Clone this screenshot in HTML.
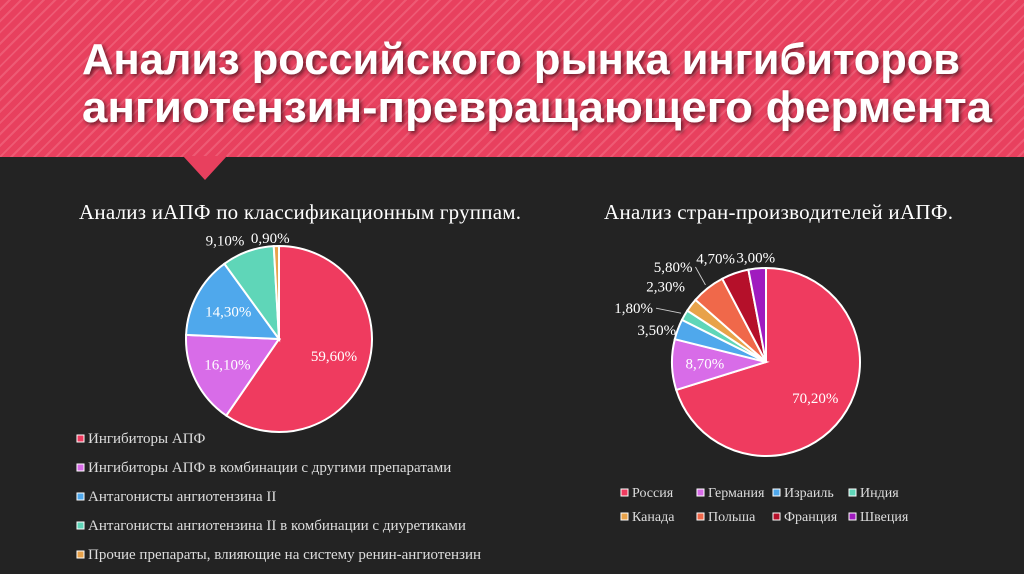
<!DOCTYPE html>
<html><head><meta charset="utf-8">
<style>
html,body{margin:0;padding:0;}
body{width:1024px;height:574px;background:#232323;overflow:hidden;position:relative;font-family:"Liberation Serif","Noto Serif CJK SC",serif;}
#hdr{position:absolute;left:0;top:0;width:1024px;height:157px;
background:repeating-linear-gradient(135deg,#e8405e 0 6px,#ee5a74 6px 8px);}
#ptr{position:absolute;left:183px;top:156px;width:0;height:0;border-left:22px solid transparent;border-right:22px solid transparent;border-top:24px solid #e8405e;}
</style></head><body>
<div id="hdr"></div>
<div id="ptr"></div>
<svg id="svg" width="1024" height="574" style="position:absolute;left:0;top:0" font-family="Liberation Serif, serif">
<defs><filter id="sh" x="-5%" y="-20%" width="110%" height="140%"><feDropShadow dx="2" dy="2" stdDeviation="2" flood-color="#000" flood-opacity="0.6"/></filter></defs>
<g fill="#fff" font-family="Liberation Sans, sans-serif" font-weight="bold" font-size="44" filter="url(#sh)">
<text x="82" y="74" textLength="878" lengthAdjust="spacingAndGlyphs">Анализ российского рынка ингибиторов</text>
<text x="82" y="122" textLength="910" lengthAdjust="spacingAndGlyphs">ангиотензин-превращающего фермента</text>
</g>
<text x="79" y="219" fill="#fff" font-size="21" textLength="442">Анализ иАПФ по классификационным группам.</text>
<text x="604" y="219" fill="#fff" font-size="21" textLength="349">Анализ стран-производителей иАПФ.</text>
</svg>
<script>
const leftCats=["Ингибиторы АПФ","Ингибиторы АПФ в комбинации с другими препаратами","Антагонисты ангиотензина II","Антагонисты ангиотензина II в комбинации с диуретиками","Прочие препараты, влияющие на систему ренин-ангиотензин"];
const leftVals=[59.6,16.1,14.3,9.1,0.9];
const leftLabels=["59,60%","16,10%","14,30%","9,10%","0,90%"];
const rightCats=["Россия","Германия","Израиль","Индия","Канада","Польша","Франция","Швеция"];
const rightVals=[70.2,8.7,3.5,1.8,2.3,5.8,4.7,3.0];
const rightLabels=["70,20%","8,70%","3,50%","1,80%","2,30%","5,80%","4,70%","3,00%"];
const leftColors=["#ef3b5f","#d86ce8","#4fa8ec","#5fd6b8","#e8a24a"];
const rightColors=["#ef3b5f","#d86ce8","#4fa8ec","#5fd6b8","#e8a24a","#f0684a","#b5102a","#a01bbf"];
// layout only: outside-label offsets from slice edge midpoint [dx,dy,anchor,leader]
const leftOff={3:[-2,-2,'end',false],4:[-6,1,'middle',false]};
const rightOff={2:[2,7,'end',false],3:[-28,0,'end',true],4:[-3,-11,'end',false],5:[-13,-13,'end',true],6:[-18,-6,'middle',false],7:[-1,-2,'middle',false]};
const NS="http://www.w3.org/2000/svg",svg=document.getElementById('svg');
function mk(t,a){const e=document.createElementNS(NS,t);for(const k in a)e.setAttribute(k,a[k]);svg.appendChild(e);return e;}
function pie(cx,cy,r,vals,labels,colors,prefix,off,inR){
  const tot=vals.reduce((a,b)=>a+b,0);let a0=0;
  vals.forEach((v,i)=>{
    const a1=a0+v/tot*2*Math.PI;
    const p=(a,rr)=>[cx+rr*Math.sin(a),cy-rr*Math.cos(a)];
    const [x0,y0]=p(a0,r),[x1,y1]=p(a1,r);
    const path=mk('path',{d:`M${cx},${cy}L${x0},${y0}A${r},${r} 0 ${a1-a0>Math.PI?1:0} 1 ${x1},${y1}Z`,fill:colors[i],stroke:'#fff','stroke-width':2});
    
    
    const m=(a0+a1)/2;let lx,ly,anchor='middle';
    if(off[i]){
      const [ex,ey]=p(m,r+4);
      lx=ex+off[i][0];ly=ey+off[i][1];anchor=off[i][2];
      if(off[i][3]){
        const l=mk('polyline',{points:`${ex},${ey} ${lx+3},${ly-5}`,stroke:'#ccc','stroke-width':1,fill:'none'});
        
        
      }
    } else {[lx,ly]=p(m,r*inR);ly+=5;}
    const t=mk('text',{x:lx,y:ly,fill:'#fff','font-size':15,'text-anchor':anchor});
    t.textContent=labels[i];
    
    
    a0=a1;
  });
}
pie(279,339,93,leftVals,leftLabels,leftColors,'left',leftOff,0.62);
pie(766,362,94,rightVals,rightLabels,rightColors,'right',rightOff,0.65);
leftCats.forEach((c,i)=>{
  const y=443+i*29;
  const r=mk('rect',{x:77,y:y-8,width:7,height:7,fill:leftColors[i],stroke:'#fff','stroke-width':1});
  
  
  const t=mk('text',{x:88,y:y,fill:'#ddd','font-size':15});t.textContent=c;
  
  
});
rightCats.forEach((c,i)=>{
  const x=621+(i%4)*76,y=497+Math.floor(i/4)*24;
  const r=mk('rect',{x:x,y:y-8,width:7,height:7,fill:rightColors[i],stroke:'#fff','stroke-width':1});
  
  
  const t=mk('text',{x:x+11,y:y,fill:'#ddd','font-size':14});t.textContent=c;
  
  
});
</script>
</body></html>
